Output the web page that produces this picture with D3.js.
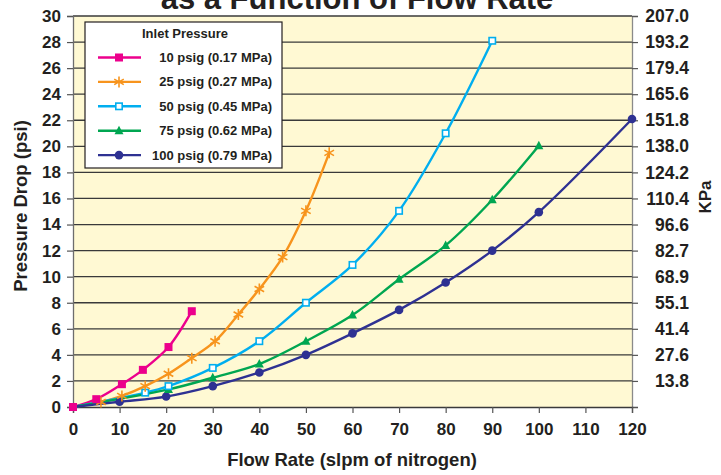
<!DOCTYPE html>
<html><head><meta charset="utf-8">
<script src="https://cdn.jsdelivr.net/npm/d3@7"></script>
<style>
body{margin:0;background:#fff;}
svg text{font-family:"Liberation Sans",Arial,sans-serif;font-weight:bold;fill:#231f20;}
</style></head>
<body>
<svg id="c" width="721" height="475"></svg>
<script>
const titleText = "as a Function of Flow Rate";
const xLabel = "Flow Rate (slpm of nitrogen)";
const yLabel = "Pressure Drop (psi)";
const y2Label = "KPa";
const legendTitle = "Inlet Pressure";
const seriesNames = ["10 psig (0.17 MPa)","25 psig (0.27 MPa)","50 psig (0.45 MPa)","75 psig (0.62 MPa)","100 psig (0.79 MPa)"];
const seriesColors = ["#ec008c","#f7941d","#00aeef","#00a651","#2e3192"];
const seriesMarkers = ["square","star","openSquare","triangle","circle"];
const x10 = [0,5,10.5,15,20.5,25.5];
const y10 = [0,0.6,1.75,2.85,4.6,7.35];
const x25 = [0,6,10.5,15.5,20.5,25.5,30.5,35.5,40,45,50,55];
const y25 = [0,0.38,0.85,1.6,2.55,3.75,5.05,7.1,9.05,11.5,15.05,19.5];
const x50 = [0,15.5,20.5,30,40,50,60,70,80,90];
const y50 = [0,1.1,1.6,3.0,5.05,8.0,10.9,15.05,21.0,28.1];
const x75 = [0,20.5,30,40,50,60,70,80,90,100];
const y75 = [0,1.35,2.25,3.3,5.05,7.05,9.8,12.4,15.9,20.05];
const x100 = [0,10,20,30,40,50,60,70,80,90,100,120];
const y100 = [0,0.4,0.8,1.6,2.65,4.0,5.65,7.45,9.55,12.0,14.95,22.1];
const xTicks = [0,10,20,30,40,50,60,70,80,90,100,110,120];
const yTicks = [0,2,4,6,8,10,12,14,16,18,20,22,24,26,28,30];
const kpaLabels = ["13.8","27.6","41.4","55.1","68.9","82.7","96.6","110.4","124.2","138.0","151.8","165.6","179.4","193.2","207.0"];

const seriesX = [x10,x25,x50,x75,x100];
const seriesY = [y10,y25,y50,y75,y100];

const svg = d3.select("#c");
const x = d3.scaleLinear().domain([0,120]).range([73,632]);
const y = d3.scaleLinear().domain([0,30]).range([407,16]);

svg.append("rect").attr("x",x(0)).attr("y",y(30)).attr("width",x(120)-x(0)).attr("height",y(0)-y(30)).attr("fill","#fff9d3");

svg.append("g").selectAll("line").data(yTicks.filter(d=>d>0)).join("line")
  .attr("x1",x(0)).attr("x2",x(120)).attr("y1",d=>y(d)).attr("y2",d=>y(d))
  .attr("stroke","#3a3a3a").attr("stroke-width",1.3);

const tickFont = "17px";
const gl = svg.append("g").attr("transform",`translate(${x(0)},0)`)
  .call(d3.axisLeft(y).tickValues(yTicks).tickSize(6).tickPadding(6).tickFormat(d3.format("d")));
gl.select(".domain").attr("stroke","#6d6d6d").attr("stroke-width",1.3);
gl.selectAll(".tick line").attr("stroke","#555").attr("stroke-width",1.2);
gl.selectAll(".tick text").style("font-size",tickFont).style("font-family","'Liberation Sans',Arial,sans-serif").attr("fill","#231f20");

const kpaTicks = yTicks.filter(d=>d>0);
const gr = svg.append("g").attr("transform",`translate(${x(120)},0)`)
  .call(d3.axisRight(y).tickValues(yTicks).tickSize(6).tickPadding(0).tickFormat(d=> d===0?"":kpaLabels[kpaTicks.indexOf(d)]));
gr.select(".domain").attr("stroke","#8a8a8a").attr("stroke-width",1.3);
gr.selectAll(".tick line").attr("stroke","#555").attr("stroke-width",1.2);
gr.selectAll(".tick text").style("font-size","17.5px").style("font-family","'Liberation Sans',Arial,sans-serif").attr("text-anchor","end").attr("x",57).attr("fill","#231f20");

const gb = svg.append("g").attr("transform",`translate(0,${y(0)})`)
  .call(d3.axisBottom(x).tickValues(xTicks).tickSize(6).tickPadding(10).tickFormat(d3.format("d")));
gb.select(".domain").attr("stroke","#3a3a3a").attr("stroke-width",1.3);
gb.selectAll(".tick line").attr("stroke","#555").attr("stroke-width",1.2);
gb.selectAll(".tick text").style("font-size",tickFont).style("font-family","'Liberation Sans',Arial,sans-serif").attr("fill","#231f20");

const line = d3.line().x(d=>x(d[0])).y(d=>y(d[1])).curve(d3.curveCatmullRom.alpha(0.5));
function marker(g, type, color, size){
  const r = size/2;
  if(type==="square") g.append("rect").attr("x",-r).attr("y",-r).attr("width",size).attr("height",size).attr("fill",color);
  else if(type==="openSquare") g.append("rect").attr("x",-r+0.8).attr("y",-r+0.8).attr("width",size-1.6).attr("height",size-1.6).attr("fill","#fff").attr("stroke",color).attr("stroke-width",1.6);
  else if(type==="triangle") g.append("path").attr("d",`M0,${-r-1}L${r+0.5},${r-0.5}L${-r-0.5},${r-0.5}Z`).attr("fill",color);
  else if(type==="circle") g.append("circle").attr("r",r+0.3).attr("fill",color);
  else if(type==="star"){
    const R=r+1.5;
    g.append("path").attr("d",`M0,${-R}L0,${R}M${-R*0.87},${-R*0.5}L${R*0.87},${R*0.5}M${-R*0.87},${R*0.5}L${R*0.87},${-R*0.5}`)
     .attr("stroke",color).attr("stroke-width",1.6).attr("fill","none");
  }
}
const plotG = svg.append("g");
seriesNames.forEach((n,i)=>{
  const pts = seriesX[i].map((v,j)=>[v,seriesY[i][j]]);
  plotG.append("path").datum(pts).attr("d",line).attr("fill","none").attr("stroke",seriesColors[i]).attr("stroke-width",2.4);
});
for(let i=seriesNames.length-1;i>=0;i--){
  seriesX[i].forEach((v,j)=>{
    if(v===0 && i!==0) return;
    const g = plotG.append("g").attr("transform",`translate(${x(v)},${y(seriesY[i][j])})`);
    marker(g, seriesMarkers[i], seriesColors[i], 8);
  });
}

const lg = svg.append("g");
lg.append("rect").attr("x",85).attr("y",22).attr("width",197).attr("height",146).attr("fill","#fff").attr("stroke","#231f20").attr("stroke-width",1.2);
lg.append("text").attr("x",185).attr("y",38).attr("text-anchor","middle").style("font-size","13px").text(legendTitle);
seriesNames.forEach((n,i)=>{
  const yy = 57.5 + i*24.4;
  lg.append("line").attr("x1",98).attr("x2",141).attr("y1",yy).attr("y2",yy).attr("stroke",seriesColors[i]).attr("stroke-width",2.4);
  const g = lg.append("g").attr("transform",`translate(119,${yy})`);
  marker(g, seriesMarkers[i], seriesColors[i], 8);
  lg.append("text").attr("x",272).attr("y",yy+4.5).attr("text-anchor","end").style("font-size","13px").text(n);
});

svg.append("text").attr("x",357).attr("y",9).attr("text-anchor","middle").style("font-size","31px").text(titleText);
svg.append("text").attr("x",352).attr("y",466).attr("text-anchor","middle").style("font-size","18.5px").text(xLabel);
svg.append("text").attr("transform","translate(27,206) rotate(-90)").attr("text-anchor","middle").style("font-size","18.5px").text(yLabel);
svg.append("text").attr("transform","translate(711,197) rotate(-90)").attr("text-anchor","middle").style("font-size","17px").text(y2Label);
</script>
</body></html>
